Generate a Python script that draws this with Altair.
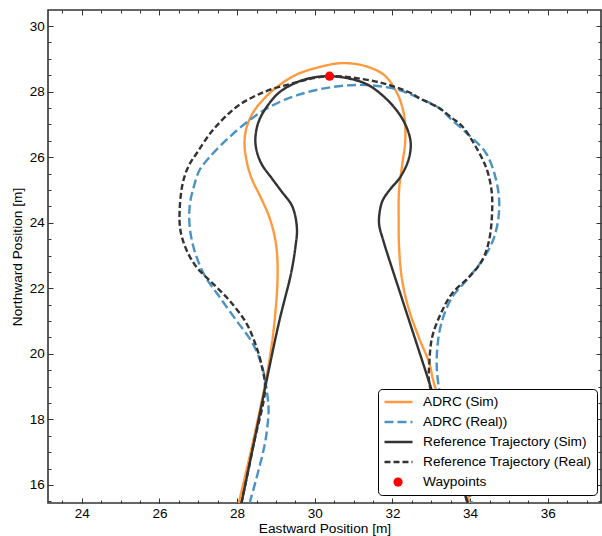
import altair as alt
import pandas as pd

# Series names, in legend order
SERIES = [
    "ADRC (Sim)",
    "ADRC (Real))",
    "Reference Trajectory (Sim)",
    "Reference Trajectory (Real)",
    "Waypoints",
]
# The waypoint entry's stroke swatch is blank; its dot comes from the point layer's legend
COLORS = ["#ff993e", "#4c92c3", "#333333", "#333333", "white"]
DASHES = [[1, 0], [9, 4], [1, 0], [6, 3], [1, 0]]
WIDTHS = [2.4, 2.4, 1.6, 1.5, 1]

# ADRC (Sim) path: eastward / northward position in metres
adrc_sim_east = [28.04, 28.40, 28.74, 28.89, 28.99, 29.04, 29.03, 28.96, 28.81, 28.58,
                 28.37, 28.24, 28.19, 28.24, 28.40, 28.68, 29.09, 29.55, 30.12, 30.71,
                 31.30, 31.79, 32.12, 32.30, 32.33, 32.25, 32.17, 32.16, 32.17, 32.25,
                 32.43, 32.69, 32.95, 33.05, 33.51, 33.99]
adrc_sim_north = [15.44, 17.27, 19.19, 20.26, 21.33, 22.24, 23.01, 23.62, 24.23, 24.84,
                  25.36, 25.91, 26.43, 26.89, 27.34, 27.77, 28.20, 28.53, 28.75, 28.87,
                  28.78, 28.50, 27.95, 27.28, 26.52, 25.76, 24.99, 24.08, 23.25, 22.24,
                  21.33, 20.47, 19.71, 19.19, 17.36, 15.44]

# ADRC (Real) path
adrc_real_east = [28.32, 28.55, 28.73, 28.81, 28.78, 28.65, 28.40, 27.98, 27.55, 27.16,
                  26.90, 26.78, 26.78, 26.88, 27.03, 27.29, 27.80, 28.32, 28.83, 29.55,
                  30.45, 31.33, 32.17, 32.69, 33.20, 33.51, 33.97, 34.41, 34.67, 34.75,
                  34.62, 34.31, 33.90, 33.54, 33.28, 33.15, 33.18, 33.59, 34.05]
adrc_real_north = [15.44, 16.44, 17.36, 18.27, 18.73, 19.59, 20.32, 21.02, 21.73, 22.40,
                   23.16, 23.86, 24.53, 25.08, 25.60, 26.00, 26.61, 27.13, 27.53, 27.89,
                   28.14, 28.20, 28.05, 27.80, 27.50, 27.16, 26.67, 26.12, 25.30, 24.47,
                   23.56, 22.85, 22.24, 21.73, 21.02, 20.11, 19.10, 17.36, 15.44]

# Reference trajectory (Sim)
ref_sim_east = [28.11, 28.43, 28.76, 29.09, 29.39, 29.50, 29.54, 29.42, 29.14, 28.89,
                28.63, 28.50, 28.47, 28.55, 28.76, 29.09, 29.55, 29.96, 30.37, 30.84,
                31.33, 31.71, 32.10, 32.35, 32.47, 32.41, 32.20, 31.92, 31.74, 31.66,
                31.66, 31.76, 32.26, 32.93, 33.42, 33.94]
ref_sim_north = [15.44, 17.27, 19.19, 21.02, 22.46, 23.25, 23.83, 24.50, 24.96, 25.36,
                 25.79, 26.21, 26.58, 27.07, 27.53, 27.98, 28.29, 28.43, 28.47, 28.41,
                 28.23, 27.92, 27.44, 26.95, 26.43, 25.91, 25.39, 24.99, 24.66, 24.23,
                 23.92, 23.47, 21.63, 19.19, 17.36, 15.44]

# Reference trajectory (Real)
ref_real_east = [28.11, 28.43, 28.72, 28.63, 28.50, 28.24, 27.80, 27.37, 26.96, 26.70,
                 26.54, 26.52, 26.60, 26.75, 26.96, 27.37, 27.98, 28.40, 28.83, 29.55,
                 29.96, 30.37, 30.89, 31.74, 32.43, 32.69, 33.20, 33.54, 33.79, 34.15,
                 34.41, 34.54, 34.57, 34.49, 34.31, 33.97, 33.54, 33.25, 33.02, 32.95,
                 32.95, 33.42, 33.94]
ref_real_north = [15.44, 17.27, 18.95, 19.65, 20.20, 20.93, 21.63, 22.15, 22.64, 23.16,
                  23.77, 24.38, 25.21, 25.73, 26.12, 26.82, 27.53, 27.83, 28.05, 28.29,
                  28.41, 28.47, 28.44, 28.26, 27.98, 27.80, 27.50, 27.19, 26.95, 26.31,
                  25.69, 25.08, 24.47, 23.47, 22.85, 22.34, 21.85, 21.24, 20.50, 19.71,
                  19.10, 17.36, 15.44]

# Waypoint
waypoint_east = [30.38]
waypoint_north = [28.47]

# Axis ranges and ticks
X_DOMAIN = [23.13, 37.37]
Y_DOMAIN = [15.45, 30.49]
X_MAJOR = [24, 26, 28, 30, 32, 34, 36]
Y_MAJOR = [16, 18, 20, 22, 24, 26, 28, 30]
X_MINOR = [23.5 + 0.5 * i for i in range(28)]
Y_MINOR = [15.5 + 0.5 * i for i in range(30)]

rows = []
for name, xs, ys in [
    (SERIES[0], adrc_sim_east, adrc_sim_north),
    (SERIES[1], adrc_real_east, adrc_real_north),
    (SERIES[2], ref_sim_east, ref_sim_north),
    (SERIES[3], ref_real_east, ref_real_north),
]:
    for i, (e, n) in enumerate(zip(xs, ys)):
        rows.append({"series": name, "step": i, "east": e, "north": n})
paths = pd.DataFrame(rows)
waypoints = pd.DataFrame({"east": waypoint_east, "north": waypoint_north,
                          "kind": ["Waypoints"] * len(waypoint_east)})

FONT = "Liberation Sans"
TICKS = dict(domain=False, grid=False, tickColor="#333333", tickWidth=1, labelFlush=False)


def x_enc(axis):
    return alt.X("east:Q", scale=alt.Scale(domain=X_DOMAIN, nice=False, zero=False), axis=axis)


def y_enc(axis):
    return alt.Y("north:Q", scale=alt.Scale(domain=Y_DOMAIN, nice=False, zero=False), axis=axis)


def minor_axis(orient, values):
    return alt.Axis(orient=orient, values=values, tickSize={"expr": "-3"}, labels=False,
                    title=None, **TICKS)


def bare_major_axis(orient, values):
    return alt.Axis(orient=orient, values=values, tickSize={"expr": "-5"}, labels=False,
                    title=None, **TICKS)


line_legend = alt.Legend(
    title=None,
    orient="none",
    legendX=330,
    legendY=379,
    direction="vertical",
    symbolType="stroke",
    symbolSize=784,
    symbolStrokeWidth=2,
    clipHeight=16,
    rowPadding=4,
    padding=5,
    labelOffset=9,
    labelLimit=400,
    labelFont=FONT,
    labelFontSize=13.7,
    labelColor="black",
    strokeColor="black",
    fillColor="white",
    cornerRadius=4,
)

# Legend for the waypoint dot, sitting in the last row of the box above
dot_legend = alt.Legend(
    title=None,
    orient="none",
    legendX=343.2,
    legendY=465.2,
    direction="vertical",
    symbolSize=85,
    symbolStrokeWidth=0,
    symbolFillColor="red",
    padding=0,
    labelExpr="''",
    labelFontSize=13.7,
)

lines = alt.Chart(paths).mark_line(clip=True, interpolate="catmull-rom").encode(
    x=x_enc(alt.Axis(orient="bottom", values=X_MAJOR, tickSize={"expr": "-5"}, labelPadding=8.7,
                     format="d", title="Eastward Position [m]", titlePadding=1, **TICKS)),
    y=y_enc(alt.Axis(orient="left", values=Y_MAJOR, tickSize={"expr": "-5"}, labelPadding=8.7,
                     format="d", title="Northward Position [m]", titlePadding=5, **TICKS)),
    color=alt.Color("series:N", scale=alt.Scale(domain=SERIES, range=COLORS), legend=line_legend),
    strokeDash=alt.StrokeDash("series:N", scale=alt.Scale(domain=SERIES, range=DASHES)),
    strokeWidth=alt.StrokeWidth("series:N", scale=alt.Scale(domain=SERIES, range=WIDTHS), legend=None),
    order="step:Q",
)

points = alt.Chart(waypoints).mark_point(filled=True, color="red", size=85, opacity=1).encode(
    x=x_enc(minor_axis("bottom", X_MINOR)),
    y=y_enc(minor_axis("left", Y_MINOR)),
    shape=alt.Shape("kind:N", scale=alt.Scale(domain=["Waypoints"], range=["circle"]),
                    legend=dot_legend),
)

frame_major = alt.Chart(waypoints).mark_point(opacity=0).encode(
    x=x_enc(bare_major_axis("top", X_MAJOR)),
    y=y_enc(bare_major_axis("right", Y_MAJOR)),
)

frame_minor = alt.Chart(waypoints).mark_point(opacity=0).encode(
    x=x_enc(minor_axis("top", X_MINOR)),
    y=y_enc(minor_axis("right", Y_MINOR)),
)

chart = (
    alt.layer(lines, points, frame_major, frame_minor)
    .resolve_scale(x="independent", y="independent")
    .properties(
        width=553,
        height=493,
        padding={"left": 48, "right": 1, "top": 10, "bottom": 33},
        autosize=alt.AutoSizeParams(type="none"),
    )
    .configure_axis(
        labelFont=FONT,
        labelFontSize=13.5,
        labelColor="black",
        titleFont=FONT,
        titleFontSize=13.7,
        titleFontWeight="normal",
        titleColor="black",
    )
    .configure_view(stroke="#333333", strokeWidth=1.6)
)

chart.save("out.html", embed_options={"renderer": "svg", "actions": False})
